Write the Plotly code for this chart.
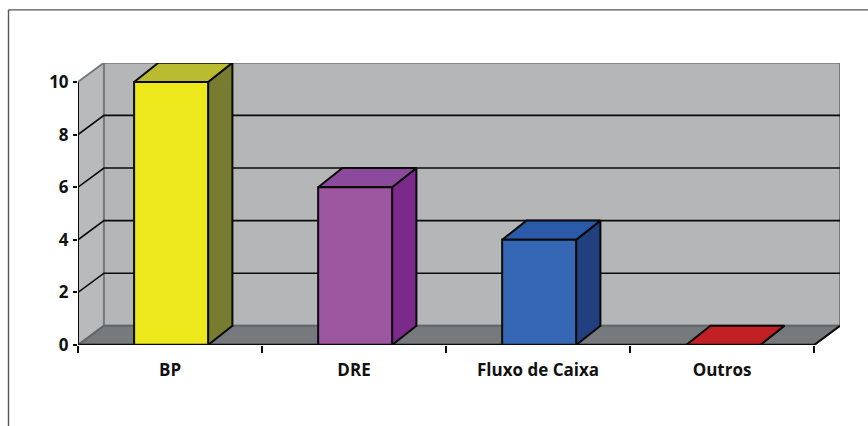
import plotly.graph_objects as go

# Chart data
categories = ["BP", "DRE", "Fluxo de Caixa", "Outros"]
values = [10, 6, 4, 0]
y_ticks = [0, 2, 4, 6, 8, 10]

# Face colours per bar: front, side, top
front_colors = ["#ece81c", "#9c57a0", "#3667b4", "#c02024"]
side_colors = ["#777c30", "#7b2a8c", "#22407f", "#8a1a1c"]
top_colors = ["#b9bc30", "#8b4a9b", "#2a5aa8", "#c02024"]

WALL = "#b5b6b8"
SIDE_WALL = "#b9babc"
FLOOR = "#767a7c"
WALL_EDGE = "#77797b"
INK = "#0a0a0a"

# Pseudo-3D extrusion, in axis units
WALL_DX, DEPTH_DY = 0.141, 0.729
BAR_DX = 0.132
BAR_WIDTH = 0.402
Y_TOP = 10.72
X_TOP = 4.141

X_FONT = dict(family="Open Sans", size=17, weight=700, color="#111111")
Y_FONT = dict(family="Open Sans", size=17, weight=700, color="#111111")

fig = go.Figure()


def poly(xs, ys, fill=None, color=INK, width=2):
    fig.add_trace(go.Scatter(
        x=xs, y=ys, mode="lines", fill="toself" if fill else None,
        fillcolor=fill, line=dict(color=color, width=width),
        hoverinfo="skip", showlegend=False, cliponaxis=False,
    ))


# Walls and floor
poly([0, WALL_DX, WALL_DX, 0, 0], [0, DEPTH_DY, 10 + DEPTH_DY, 10, 0], SIDE_WALL, WALL_EDGE)
poly([WALL_DX, 4 + WALL_DX, 4 + WALL_DX, WALL_DX, WALL_DX],
     [DEPTH_DY, DEPTH_DY, 10 + DEPTH_DY, 10 + DEPTH_DY, DEPTH_DY], WALL, WALL_EDGE)
poly([0, 4, 4 + WALL_DX, WALL_DX, 0], [0, 0, DEPTH_DY, DEPTH_DY, 0], FLOOR, "#636566")

# Gridlines wrap from the side wall onto the back wall
for v in y_ticks[1:-1]:
    poly([0, WALL_DX, 4 + WALL_DX], [v, v + DEPTH_DY, v + DEPTH_DY], color=INK, width=1.6)

# Front edges of the floor and the side wall
poly([0, 0], [0, 10], color=INK, width=2)
poly([0, 4, 4 + WALL_DX], [0, 0, DEPTH_DY], color=INK, width=2)

# Extruded bars
for i, v in enumerate(values):
    x0 = i + 0.5 - BAR_WIDTH / 2 + 0.006
    x1 = x0 + BAR_WIDTH
    poly([x1, x1 + BAR_DX, x1 + BAR_DX, x1, x1],
         [0, DEPTH_DY, v + DEPTH_DY, v, 0], side_colors[i])
    poly([x0, x1, x1 + BAR_DX, x0 + BAR_DX, x0],
         [v, v, v + DEPTH_DY, v + DEPTH_DY, v], top_colors[i])
    poly([x0, x1, x1, x0, x0], [0, 0, v, v, 0], front_colors[i])

# Baseline sits on top of the bar feet
poly([0, 4], [0, 0], color=INK, width=2.4)

L, R, T, B = 78, 28, 62.7, 81
W, H = 868, 426
plot_w, plot_h = W - L - R, H - T - B


def paper_x(px):
    return (px - L) / plot_w


def paper_y(px):
    return (H - B - px) / plot_h


fig.update_layout(
    width=W, height=H,
    margin=dict(l=L, r=R, t=T, b=B, autoexpand=False),
    paper_bgcolor="white", plot_bgcolor="white",
    showlegend=False,
    xaxis=dict(
        range=[0, X_TOP], showgrid=False, zeroline=False, showline=False,
        tickmode="array",
        tickvals=[i + 0.5 for i in range(len(categories))], ticktext=categories,
        ticks="outside", ticklen=10, tickcolor="rgba(0,0,0,0)", tickfont=X_FONT,
        minor=dict(tickmode="array", tickvals=list(range(len(categories) + 1)),
                   ticks="outside", ticklen=7, tickwidth=1.5, tickcolor=INK, showgrid=False),
    ),
    yaxis=dict(
        range=[0, Y_TOP], showgrid=False, zeroline=False, showline=False,
        tickmode="array", tickvals=y_ticks,
        ticks="outside", ticklen=4, tickwidth=2, tickcolor=INK, tickfont=Y_FONT,
        ticklabelstandoff=1,
    ),
    # Chart frame, open on the right and bottom page edges
    shapes=[
        dict(type="line", xref="paper", yref="paper",
             x0=paper_x(8.5), x1=paper_x(8.5), y0=paper_y(9.5), y1=paper_y(H),
             line=dict(color="#555555", width=1.4)),
        dict(type="line", xref="paper", yref="paper",
             x0=paper_x(8.5), x1=paper_x(W), y0=paper_y(9.5), y1=paper_y(9.5),
             line=dict(color="#555555", width=1.4)),
    ],
)

fig.write_html("out.html", config=dict(displayModeBar=False))
